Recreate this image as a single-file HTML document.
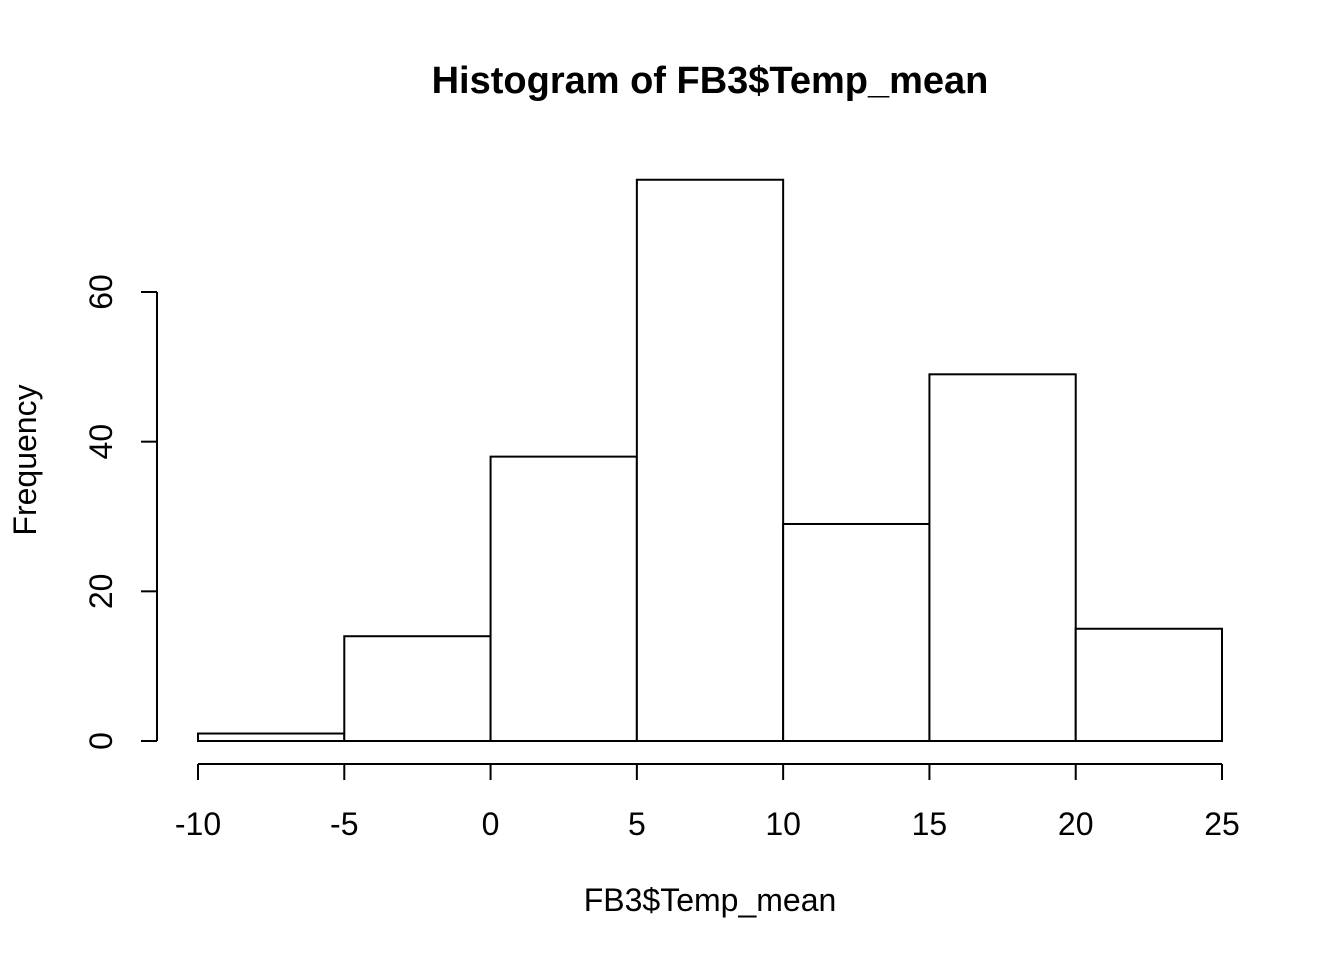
<!DOCTYPE html>
<html><head><meta charset="utf-8">
<style>
html,body{margin:0;padding:0;background:#fff;}
svg{display:block;font-family:"Liberation Sans",Arial,sans-serif;}
</style></head>
<body>
<svg id="chart" width="1344" height="960" viewBox="0 0 1344 960">
<text x="710" y="93" text-anchor="middle" font-size="38" font-weight="bold">Histogram of FB3$Temp_mean</text>
<text x="710" y="911" text-anchor="middle" font-size="32">FB3$Temp_mean</text>
<text transform="translate(36,460) rotate(-90)" text-anchor="middle" font-size="32">Frequency</text>
<g id="bars"></g>
<g id="xaxis"></g>
<g id="yaxis"></g>
</svg>
<script>
const binEdges = [-10, -5, 0, 5, 10, 15, 20, 25];
const counts = [1, 14, 38, 75, 29, 49, 15];
const xTicks = [-10, -5, 0, 5, 10, 15, 20, 25];
const yTicks = [0, 20, 40, 60];

const NS = "http://www.w3.org/2000/svg";
function xs(v){ return 198 + (v + 10) * (1024 / 35); }
function ys(v){ return 741 - v * (449 / 60); }
function mk(tag, attrs, parent){
  const e = document.createElementNS(NS, tag);
  for (const k in attrs) e.setAttribute(k, attrs[k]);
  parent.appendChild(e);
  return e;
}
const bars = document.getElementById("bars");
for (let i = 0; i < counts.length; i++){
  const x0 = xs(binEdges[i]), x1 = xs(binEdges[i+1]), y = ys(counts[i]);
  const r = mk("rect", {x: x0, y: y, width: x1 - x0, height: ys(0) - y, fill: "#fff", stroke: "#000", "stroke-width": 2}, bars);
  
  
}
const xa = document.getElementById("xaxis");
const xl = mk("line", {x1: xs(xTicks[0]), x2: xs(xTicks[xTicks.length-1]), y1: 764, y2: 764, stroke: "#000", "stroke-width": 2}, xa);


xTicks.forEach(t => {
  const l = mk("line", {x1: xs(t), x2: xs(t), y1: 764, y2: 780, stroke: "#000", "stroke-width": 2}, xa);
  
  
  const tx = mk("text", {x: xs(t), y: 835, "text-anchor": "middle", "font-size": 32}, xa);
  tx.textContent = String(t);
  
  
});
const ya = document.getElementById("yaxis");
const yl = mk("line", {x1: 157, x2: 157, y1: ys(yTicks[0]), y2: ys(yTicks[yTicks.length-1]), stroke: "#000", "stroke-width": 2}, ya);


yTicks.forEach(t => {
  const l = mk("line", {x1: 141, x2: 157, y1: ys(t), y2: ys(t), stroke: "#000", "stroke-width": 2}, ya);
  
  
  const tx = mk("text", {transform: "translate(112," + ys(t) + ") rotate(-90)", "text-anchor": "middle", "font-size": 32}, ya);
  tx.textContent = String(t);
  
  
});
</script>
</body></html>
